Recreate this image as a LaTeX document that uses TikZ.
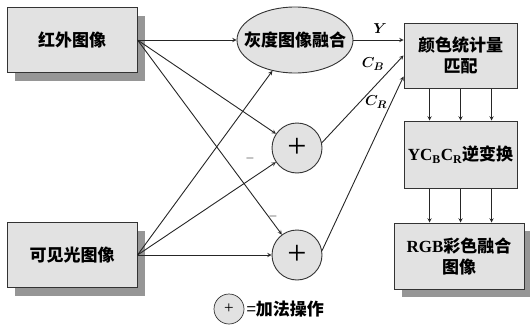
\documentclass[tikz,border=0pt]{standalone}
\usepackage{fontspec}
\usepackage{bm}
\setmainfont{Liberation Serif}
\newfontfamily\cjk{Noto Sans CJK SC}
\usetikzlibrary{shapes.geometric}
\usetikzlibrary{shadows}
\usepgflibrary{arrows}
\definecolor{kuangse}{RGB}{226,226,226}
\definecolor{yingse}{RGB}{150,150,150}
\begin{document}
\begin{tikzpicture}[%
x=1pt, y=-1pt,
>=stealth,
fangkuang/.style={draw=black!80, fill=kuangse, line width=1pt, inner sep=0pt, align=center, font=\fontsize{17}{21}\selectfont},
yinying/.style={drop shadow={shadow xshift=8pt, shadow yshift=-8pt, fill=yingse, opacity=1}},
jiahao/.style={circle, draw=black!80, fill=kuangse, line width=0.9pt, minimum size=50pt, inner sep=0pt, font=\fontsize{34}{34}\selectfont},
xian/.style={->, draw=black!85, line width=0.9pt},
biaoqian/.style={inner sep=1pt, font=\fontsize{15}{15}\selectfont},
jianhao/.style={inner sep=0pt, font=\fontsize{13}{13}\selectfont},
]

\useasboundingbox (0,0) rectangle (530,324);

% inputs
\node[fangkuang, yinying, minimum width=130pt, minimum height=65pt](hongwai) at (72,40){\cjk\bfseries 红外图像};
\node[fangkuang, yinying, minimum width=130pt, minimum height=65pt](kejian) at (72,255){\cjk\bfseries 可见光图像};

% fusion and adders
\node[ellipse, draw=black!80, fill=kuangse, line width=0.9pt, minimum width=116pt, minimum height=66pt](huidu) at (295,40){};
\node[fangkuang, draw=none, fill=none](huiduwen) at (huidu){\cjk\bfseries 灰度图像融合};
\node[jiahao](jia1) at (297,148){+};
\node[jiahao](jia2) at (297,255){+};

% right column
\node[fangkuang, minimum width=113pt, minimum height=65pt](pipei) at (460.5,55.5){\cjk\bfseries 颜色统计量\\\cjk\bfseries 匹配};
\node[fangkuang, minimum width=113pt, minimum height=67pt](nibian) at (460.5,154.5){\textbf{YC\textsubscript{B}C\textsubscript{R}}{\cjk\bfseries 逆变换}};
\node[fangkuang, yinying, minimum width=130pt, minimum height=66pt](rgb) at (459,256){\textbf{RGB}{\cjk\bfseries 彩色融合}\\\cjk\bfseries 图像};

\draw[xian] (hongwai.east)--(huidu);
\draw[xian] (hongwai.east)--(jia1);
\draw[xian] (hongwai.east)--(jia2);
\draw[xian] (kejian.east)--(huidu);
\draw[xian] (kejian.east)--(jia1);
\draw[xian] (kejian.east)--(jia2);

\node[jianhao](jian1) at (250,158){$-$};
\node[jianhao](jian2) at (273,216){$-$};

\draw[xian] (huidu)--(huidu -| pipei.west);
\draw[xian] (jia1.12)--(pipei.west);
\draw[xian] (jia2.10)--([yshift=-21pt]pipei.west);
\node[biaoqian](lblY) at (380,29){$\bm{Y}$};
\node[biaoqian](lblCB) at (373,64){$\bm{C_B}$};
\node[biaoqian](lblCR) at (376,102){$\bm{C_R}$};

\foreach \dx in {-31,0,31}{
\draw[xian] ([xshift=\dx pt]pipei.south)--([xshift=\dx pt]nibian.north);
\draw[xian] ([xshift=\dx pt]nibian.south)--([xshift=\dx pt]nibian.south |- rgb.north);
}

% legend
\node[jiahao, minimum size=30pt, line width=0.7pt, font=\fontsize{17}{17}\selectfont](tuli) at (229,309){+};
\node[anchor=west, inner sep=2pt, font=\fontsize{17}{17}\selectfont](tuliwen) at (tuli.east){\cjk =\bfseries 加法操作};

\end{tikzpicture}
\end{document}
